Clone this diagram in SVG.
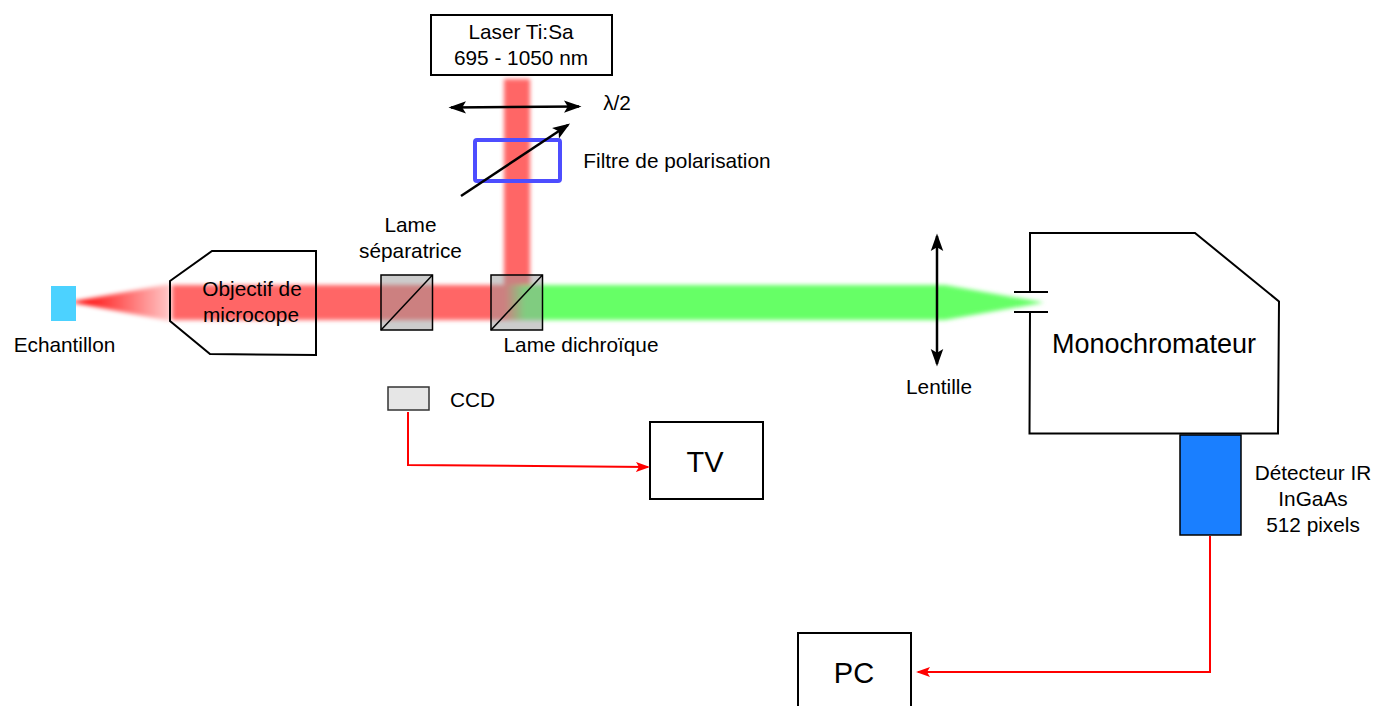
<svg xmlns="http://www.w3.org/2000/svg" width="1375" height="706" viewBox="0 0 1375 706">
<style>
text{font-family:"Liberation Sans",Arial,sans-serif;fill:#000;text-anchor:middle}
.s{font-size:20.800px}.m{font-size:27px}.l{font-size:29px}.box{fill:#fff;stroke:#000;stroke-width:2}
.cube{fill:#999;fill-opacity:.5;stroke:#000;stroke-width:1.5}
.dbl{fill:none;stroke:#000;stroke-width:2.5}
.wire{fill:none;stroke:#f00;stroke-width:2}
</style>
<defs>
<filter id="blur" x="-20%" y="-40%" width="140%" height="180%"><feGaussianBlur stdDeviation="2.2"/></filter>
<linearGradient id="taperR" x1="75" x2="170" y1="0" y2="0" gradientUnits="userSpaceOnUse"><stop offset="0" stop-color="#f00"/><stop offset="1" stop-color="#f00" stop-opacity=".22"/></linearGradient>
<linearGradient id="mix" x1="505" x2="525" y1="0" y2="0" gradientUnits="userSpaceOnUse"><stop offset="0" stop-color="#f66"/><stop offset="1" stop-color="#6f6"/></linearGradient>
<marker id="bk" markerWidth="8" markerHeight="8" refX="6" refY="3.5" orient="auto-start-reverse" markerUnits="strokeWidth"><path d="M0 1L7 3.500L0 6L1.500 3.500Z" fill="#000"/></marker>
<marker id="rd" markerWidth="8" markerHeight="7" refX="6" refY="3" orient="auto" markerUnits="strokeWidth"><path d="M0 0.500L7 3L0 5.500L1.500 3Z" fill="#f00"/></marker>
</defs>
<g id="beams" filter="url(#blur)">
<path d="M70 302L170 284V321Z" fill="url(#taperR)"/>
<rect x="172" y="285" width="340" height="35" fill="#f66"/>
<rect x="504" y="79" width="26" height="222" fill="#f66"/>
<path d="M505 285H945L1044 302.500L945 320H505Z" fill="url(#mix)"/>
</g>
<g id="echantillon"><rect x="51" y="286" width="25" height="35" fill="#4cd2ff"/><text class="s" x="64.500" y="351.500">Echantillon</text></g>
<g id="objectif"><path d="M170 281L212 251H316V355L210 354L170 321Z" fill="none" stroke="#000" stroke-width="2"/><text class="s" x="252" y="296">Objectif de</text><text class="s" x="251" y="322">microcope</text></g>
<g id="lame-separatrice"><rect class="cube" x="381" y="275" width="51.500" height="55"/><path d="M381 330L432.500 275" stroke="#000" stroke-width="1.500"/><text class="s" x="410.500" y="232">Lame</text><text class="s" x="410.500" y="258">séparatrice</text></g>
<g id="lame-dichroique"><rect class="cube" x="491" y="275" width="51.500" height="55"/><path d="M491 330L542.500 275" stroke="#000" stroke-width="1.500"/><text class="s" x="581" y="351.500">Lame dichroïque</text></g>
<g id="laser"><rect class="box" x="431" y="15" width="181" height="60"/><text class="s" x="521" y="39">Laser Ti:Sa</text><text class="s" x="521" y="65">695 - 1050 nm</text></g>
<g id="filtre"><rect x="475" y="140" width="85" height="41" rx="2" fill="none" stroke="#4d4dff" stroke-width="4"/><text class="s" x="677" y="168">Filtre de polarisation</text></g>
<g id="lambda"><path class="dbl" d="M451 107.500L579 106.500" marker-start="url(#bk)" marker-end="url(#bk)"/><path class="dbl" d="M461 196L568 125" marker-end="url(#bk)"/><text class="s" x="617" y="110">λ/2</text></g>
<g id="lentille"><path class="dbl" d="M937 236V364" marker-start="url(#bk)" marker-end="url(#bk)"/><text class="s" x="939" y="394">Lentille</text></g>
<g id="monochromateur"><path d="M1030 292V233H1195L1279 301.500L1278 433.500H1029.500L1030 312" fill="none" stroke="#000" stroke-width="2"/><path d="M1014 292H1048M1014 312H1048" stroke="#000" stroke-width="2"/><text class="m" x="1154" y="353">Monochromateur</text></g>
<g id="detecteur"><rect x="1180" y="435" width="61" height="100" fill="#1a7fff" stroke="#000" stroke-width="1.500"/><text class="s" x="1313" y="480">Détecteur IR</text><text class="s" x="1313" y="506">InGaAs</text><text class="s" x="1313" y="532">512 pixels</text></g>
<g id="ccd"><rect x="388" y="387" width="41" height="23" fill="#e6e6e6" stroke="#333" stroke-width="1.500"/><text class="s" x="472.500" y="407">CCD</text></g>
<g id="tv"><rect class="box" x="650" y="422" width="113" height="77"/><text class="l" x="705" y="472">TV</text></g>
<g id="pc"><rect class="box" x="798" y="633" width="113" height="80"/><text class="l" x="854" y="683">PC</text></g>
<g id="connectors"><path class="wire" d="M408 412V465L648 467" marker-end="url(#rd)"/><path class="wire" d="M1210 536V672H918" marker-end="url(#rd)"/></g>
</svg>
